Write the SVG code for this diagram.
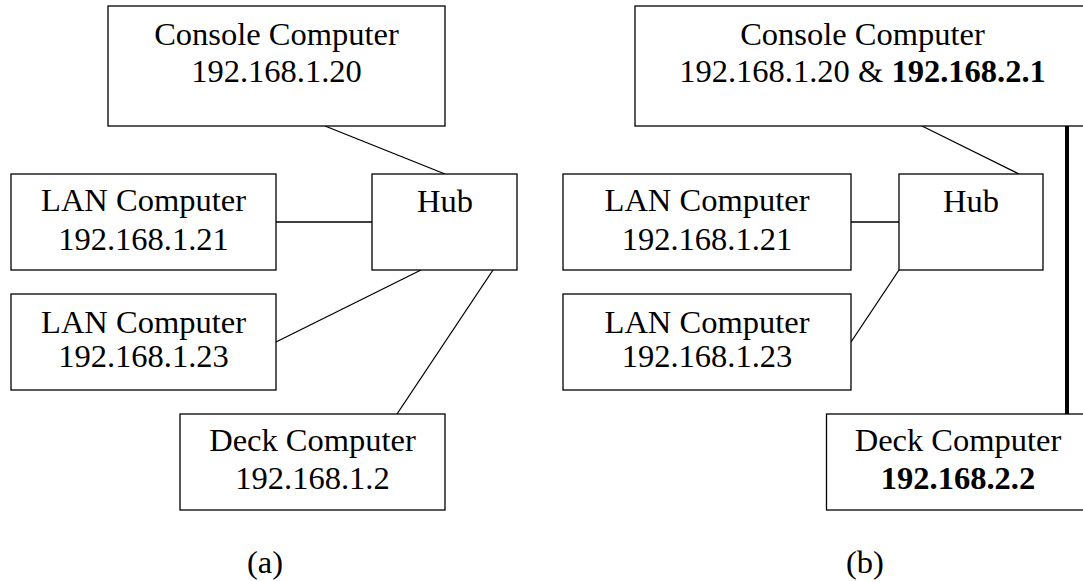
<svg xmlns="http://www.w3.org/2000/svg" width="1083" height="581" viewBox="0 0 1083 581">
<style>
.box{fill:#fff;stroke:#000;stroke-width:1.3}
.t{font-family:"Liberation Serif","Times New Roman",serif;font-size:32.5px;fill:#000;text-anchor:middle}
.b{font-weight:bold}
.ln{stroke:#000;stroke-width:1.3;fill:none}
.thick{stroke:#000;stroke-width:4;fill:none}
</style>
<rect width="1083" height="581" fill="#fff"/>
<g id="connectors">
<line class="ln" x1="325" y1="126" x2="445" y2="174"/>
<line class="ln" x1="276" y1="222" x2="372" y2="222"/>
<line class="ln" x1="421" y1="270" x2="276" y2="342"/>
<line class="ln" x1="493" y1="270" x2="397" y2="414"/>
<line class="ln" x1="922" y1="126" x2="1019" y2="174"/>
<line class="ln" x1="851" y1="222" x2="899" y2="222"/>
<line class="ln" x1="899" y1="270" x2="851" y2="342"/>
<line class="thick" x1="1067" y1="126" x2="1067" y2="414"/>
</g>
<g id="a-console">
<rect class="box" x="108" y="6" width="337" height="120"/>
<text class="t" x="276.5" y="45">Console Computer</text>
<text class="t" x="276.5" y="82">192.168.1.20</text>
</g>
<g id="a-lan1">
<rect class="box" x="11" y="174" width="265" height="96"/>
<text class="t" x="143.5" y="211">LAN Computer</text>
<text class="t" x="143.5" y="250">192.168.1.21</text>
</g>
<g id="a-hub">
<rect class="box" x="372" y="174" width="145" height="96"/>
<text class="t" x="445" y="212">Hub</text>
</g>
<g id="a-lan2">
<rect class="box" x="11" y="294" width="265" height="96"/>
<text class="t" x="143.5" y="333">LAN Computer</text>
<text class="t" x="143.5" y="367">192.168.1.23</text>
</g>
<g id="a-deck">
<rect class="box" x="180" y="414" width="265" height="96"/>
<text class="t" x="312.5" y="451">Deck Computer</text>
<text class="t" x="312.5" y="489">192.168.1.2</text>
</g>
<g id="label-a"><text class="t" x="265" y="573">(a)</text></g>
<g id="b-console">
<rect class="box" x="635" y="6" width="455" height="120"/>
<text class="t" x="862.5" y="45">Console Computer</text>
<text class="t" x="862.5" y="82">192.168.1.20 &amp; <tspan class="b">192.168.2.1</tspan></text>
</g>
<g id="b-lan1">
<rect class="box" x="563" y="174" width="288" height="96"/>
<text class="t" x="707" y="211">LAN Computer</text>
<text class="t" x="707" y="250">192.168.1.21</text>
</g>
<g id="b-hub">
<rect class="box" x="899" y="174" width="144" height="96"/>
<text class="t" x="971" y="212">Hub</text>
</g>
<g id="b-lan2">
<rect class="box" x="563" y="294" width="288" height="96"/>
<text class="t" x="707" y="333">LAN Computer</text>
<text class="t" x="707" y="367">192.168.1.23</text>
</g>
<g id="b-deck">
<rect class="box" x="826.5" y="414" width="263" height="96"/>
<text class="t" x="958" y="451">Deck Computer</text>
<text class="t b" x="958" y="489">192.168.2.2</text>
</g>
<g id="label-b"><text class="t" x="865" y="573">(b)</text></g>
</svg>
